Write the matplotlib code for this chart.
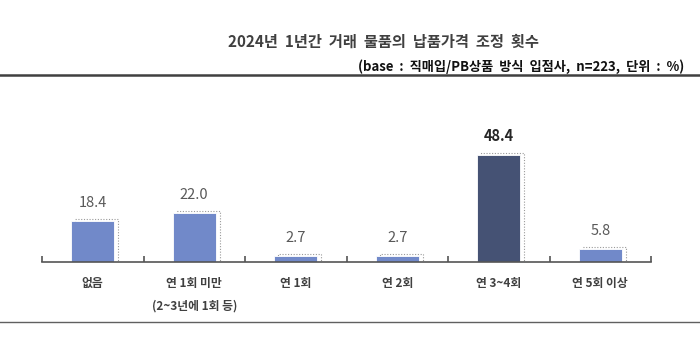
import matplotlib
matplotlib.use("Agg")
import matplotlib.pyplot as plt
from matplotlib.patches import Rectangle
from matplotlib.lines import Line2D

plt.rcParams['font.family'] = ['Noto Sans CJK KR', 'DejaVu Sans']

title = "2024년  1년간  거래  물품의  납품가격  조정  횟수"
subtitle = "(base  :  직매입/PB상품  방식  입점사,  n=223,  단위  :  %)"
categories = ["없음", "연 1회 미만\n(2~3년에 1회 등)", "연 1회", "연 2회", "연 3~4회", "연 5회 이상"]
values = [18.4, 22.0, 2.7, 2.7, 48.4, 5.8]
highlight = 4

W, H = 700, 348
fig = plt.figure(figsize=(W / 100, H / 100), dpi=100)

def fx(px):
    return px / W

def fy(py):
    return 1 - py / H

# plot area: baseline at y=262, from x=42 to x=651
ax = fig.add_axes([fx(42), fy(262), fx(651 - 42), (262 - 100) / H])
ax.set_xlim(-0.5, len(values) - 0.5)
ax.set_ylim(0, 73.3)

light = "#7189C9"
dark = "#455274"
text_col = "#404040"
bw = 0.42

for i, v in enumerate(values):
    col = dark if i == highlight else light
    # dotted shadow behind the bar
    sh = Rectangle((i - bw / 2 + 0.04, 0), bw, v + 0.9, facecolor="none",
                   edgecolor="#9a9a9a", linestyle=(0, (1, 1.5)), linewidth=0.8, zorder=1)
    ax.add_patch(sh)
    ax.bar(i, v, width=bw, color=col, edgecolor="white", linewidth=0.6, zorder=2)
    ax.text(i, v + 5.0, f"{v:.1f}", ha="center", va="bottom",
            fontsize=10.5, color="#262626" if i == highlight else "#595959",
            fontweight="bold" if i == highlight else "normal")

for s in ["top", "right", "left"]:
    ax.spines[s].set_visible(False)
ax.spines["bottom"].set_color("#555555")
ax.spines["bottom"].set_linewidth(1.2)
ax.set_yticks([])
ax.set_xticks([i - 0.5 for i in range(len(values) + 1)])
ax.set_xticklabels([])
ax.tick_params(axis="x", direction="in", length=4, width=1.2, color="#555555")

for i, c in enumerate(categories):
    ax.text(i, -0.095, c, transform=ax.get_xaxis_transform(), ha="center", va="top",
            fontsize=8.5, color=text_col, fontweight="bold", linespacing=1.9)

fig.text(fx(383), fy(42), title, ha="center", va="center", fontsize=11,
         fontweight="bold", color="#404040")
fig.text(fx(684), fy(67), subtitle, ha="right", va="center", fontsize=9.5,
         fontweight="bold", color="#111111")

fig.add_artist(Line2D([0, 1], [fy(75), fy(75)], color="#404040", linewidth=1.8))
fig.add_artist(Line2D([0, 1], [fy(322), fy(322)], color="#606060", linewidth=1.0))

fig.savefig("out.png", dpi=100)
